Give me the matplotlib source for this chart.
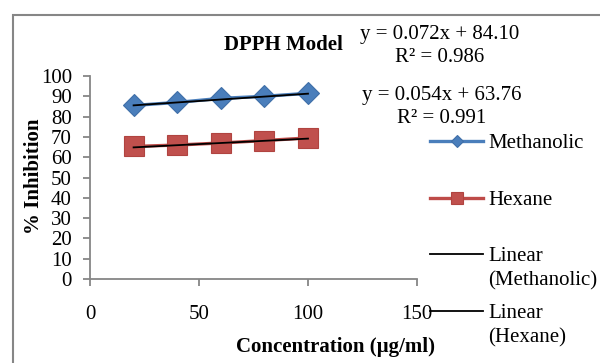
import numpy as np
import matplotlib.pyplot as plt
from matplotlib.patches import Rectangle

plt.rcParams['font.family'] = ['Liberation Serif', 'DejaVu Serif']

# Data
conc = [20, 40, 60, 80, 100]
methanolic = [85.5, 87.0, 89.0, 90.0, 91.5]
hexane = [65.3, 66.0, 67.0, 68.2, 69.5]

# Trendline coefficients as printed on the chart
meth_fit = (0.072, 84.10)
hex_fit = (0.054, 63.76)
meth_eq = 'y = 0.072x + 84.10\nR\u00b2 = 0.986'
hex_eq = 'y = 0.054x + 63.76\nR\u00b2 = 0.991'

x_ticks = [0, 50, 100, 150]
y_ticks = list(range(0, 101, 10))

blue = '#4A7EBB'
red = '#BE4B48'
grey = '#868686'
fs = 15

fig = plt.figure(figsize=(6.0, 3.63), dpi=100)
ax = fig.add_axes([0.15, 0.2314, 0.545, 0.5592])

# Series (labels padded to two lines so legend slots are equal, as in Excel)
ax.plot(conc, methanolic, color=blue, lw=2.4, marker='D', ms=11.5,
        mfc=blue, mec='#3F6FA8', mew=0.8, label='Methanolic\n', zorder=3)
ax.plot(conc, hexane, color=red, lw=2.4, marker='s', ms=14.5,
        mfc='#C0504D', mec='#B04440', mew=0.8, label='Hexane\n', zorder=3)

# Linear trendlines
xs = np.array([conc[0], conc[-1]])
ax.plot(xs, meth_fit[0] * xs + meth_fit[1], color='black', lw=1.3,
        label='Linear\n(Methanolic)', zorder=4)
ax.plot(xs, hex_fit[0] * xs + hex_fit[1], color='black', lw=1.3,
        label='Linear\n(Hexane)', zorder=4)

ax.set_xlim(0, 150)
ax.set_ylim(0, 100)
ax.set_xticks(x_ticks)
ax.set_yticks(y_ticks)
ax.spines['right'].set_visible(False)
ax.spines['top'].set_visible(False)
ax.spines['left'].set_color(grey)
ax.spines['bottom'].set_color(grey)
ax.spines['left'].set_linewidth(1.3)
ax.spines['bottom'].set_linewidth(1.3)
ax.tick_params(axis='both', colors=grey, length=5, width=1.3, labelsize=fs,
               labelcolor='black')
ax.tick_params(axis='y', pad=8)
ax.tick_params(axis='x', pad=14)

ax.set_xlabel('Concentration (\u00b5g/ml)', fontsize=fs, fontweight='bold')
ax.set_ylabel('% Inhibition', fontsize=fs, fontweight='bold')
ax.xaxis.label.set_va('center')
ax.yaxis.label.set_va('center')
ax.xaxis.set_label_coords(0.752, -0.335)
ax.yaxis.set_label_coords(-0.172, 0.507)

fig.text(283 / 600, 1 - 45 / 363, 'DPPH Model', fontsize=fs,
         fontweight='bold', ha='center', va='center')

# Trendline equations
fig.text(440 / 600, 1 - 46 / 363, meth_eq, fontsize=fs, ha='center',
         va='center', multialignment='center', linespacing=1.35)
fig.text(442 / 600, 1 - 107 / 363, hex_eq, fontsize=fs, ha='center',
         va='center', multialignment='center', linespacing=1.35)

leg = ax.legend(loc='upper left', bbox_to_anchor=(430 / 600, 1 - 134 / 363),
                bbox_transform=fig.transFigure, frameon=False, fontsize=fs,
                handlelength=2.55, handletextpad=0.25, labelspacing=0.62,
                borderpad=0, borderaxespad=0)
for t in leg.get_texts():
    t.set_linespacing(1.4)
# handle sits on the first text line, like Excel
for col in leg._legend_handle_box.get_children():
    for row in col.get_children():
        row.align = 'top'
leg.legend_handles[0].set_markersize(6.5)
leg.legend_handles[1].set_markersize(9)

# Chart area border (runs off the right and bottom edges)
fig.patches.append(Rectangle((13 / 600, -0.1), 1.0, 1 - 15 / 363 + 0.1,
                             transform=fig.transFigure, fill=False,
                             ec=grey, lw=1.5))

fig.savefig('out.png', dpi=100)
plt.close('all')
